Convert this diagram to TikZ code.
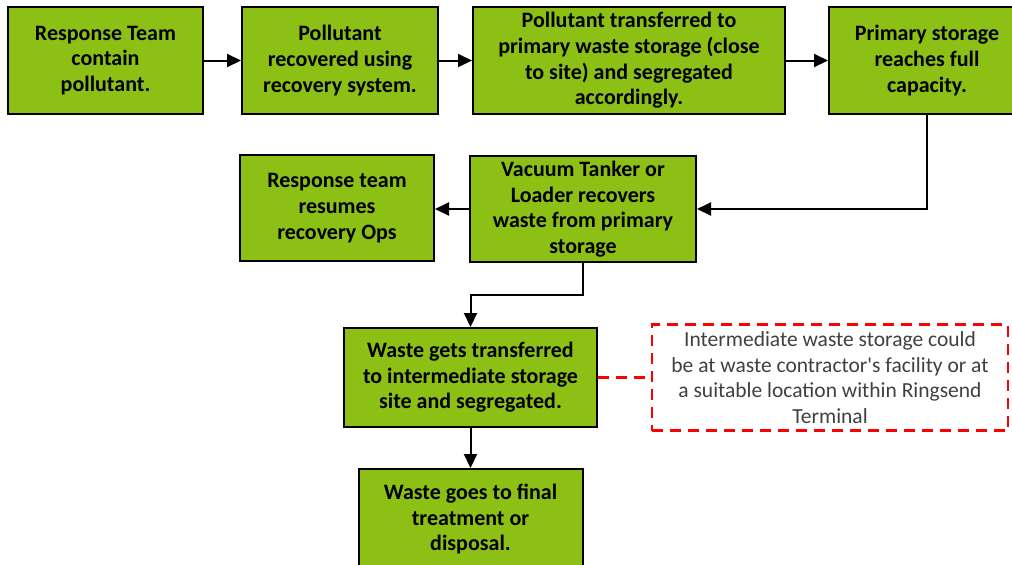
\documentclass[tikz,border=0pt]{standalone}
\usepackage{fontspec}
\setmainfont{Carlito}
\newfontfamily\notefont[Ligatures=TeXOff]{Carlito}
\usetikzlibrary{positioning}
\usetikzlibrary{arrows.meta}

\definecolor{taskgreen}{RGB}{141,192,20}
\definecolor{notegrey}{RGB}{64,64,64}

\begin{document}
\begin{tikzpicture}[x=0.5pt, y=-0.5pt, ->, >={Triangle[length=7pt,width=6.5pt]}, line width=1pt, draw=black]
    \tikzstyle{task}=[draw=black, line width=1pt, fill=taskgreen, rectangle, align=center, inner sep=0pt, font=\bfseries\fontsize{11}{12.8}\selectfont]
    \tikzstyle{note}=[draw=red, line width=1.4pt, dash pattern=on 5.5pt off 3.5pt, rectangle, align=center, inner sep=0pt, text=notegrey, font=\notefont\fontsize{10.75}{12.8}\selectfont]
    \tikzstyle{link}=[draw=red, line width=1.4pt, dash pattern=on 5.5pt off 3.5pt, -]

    \useasboundingbox[fill=white] (0,0) rectangle (1012,564);

    % top row
    \node[task, minimum width=97.5pt, minimum height=53.5pt] (contain) at (105.5,60.5) {Response Team\\contain\\pollutant.};
    \node[task, minimum width=98pt, minimum height=53.5pt] (recover) at (340,60.5) {Pollutant\\recovered using\\recovery system.};
    \node[task, minimum width=156pt, minimum height=53.5pt] (transfer) at (629,60.5) {Pollutant transferred to\\primary waste storage (close\\to site) and segregated\\accordingly.};
    \node[task, minimum width=98pt, minimum height=53.5pt] (full) at (927,60.5) {Primary storage\\reaches full\\capacity.};

    % second row
    \node[task, minimum width=113pt, minimum height=53pt] (tanker) at (583,209) {Vacuum Tanker or\\Loader recovers\\waste from primary\\storage};
    \node[task, minimum width=97pt, minimum height=53pt] (resume) at (337,208) {Response team\\resumes\\recovery Ops};

    % intermediate and final storage
    \node[task, minimum width=126.5pt, minimum height=49.5pt] (interim) at (470.5,377.5) {Waste gets transferred\\to intermediate storage\\site and segregated.};
    \node[task, minimum width=112pt, minimum height=50pt] (final) at (470.5,519) {Waste goes to final\\treatment or\\disposal.};
    \node[note, minimum width=178pt, minimum height=53pt] (remark) at (830,377.5) {Intermediate waste storage could\\be at waste contractor's facility or at\\a suitable location within Ringsend\\Terminal};

    \draw (contain) -- (recover);
    \draw (recover) -- (transfer);
    \draw (transfer) -- (full);
    \draw (full.south) |- (tanker.east);
    \draw (tanker.west) -- (tanker.west -| resume.east);
    \draw (tanker.south) -- ++(0,32) -| (interim.north);
    \draw (interim) -- (final);
    \draw[link] (interim.east) -- (remark.west);
\end{tikzpicture}
\end{document}
